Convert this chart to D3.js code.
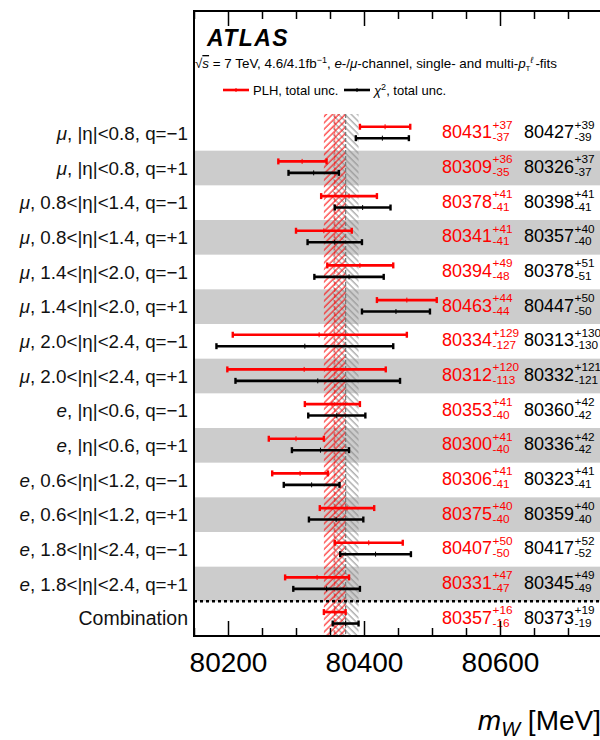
<!DOCTYPE html>
<html>
<head>
<meta charset="utf-8">
<script src="https://cdn.jsdelivr.net/npm/d3@7"></script>
<style>
body { margin: 0; background: #fff; }
svg { font-family: "Liberation Sans", Arial, Helvetica, sans-serif; }
</style>
</head>
<body>
<svg id="chart"></svg>
<script>
var width = 600,
    height = 740

// rows: lepton, the rest of the label
var leptons = ["μ","μ","μ","μ","μ","μ","μ","μ","e","e","e","e","e","e",""]
var bins = [", |η|<0.8, q=−1", ", |η|<0.8, q=+1", ", 0.8<|η|<1.4, q=−1", ", 0.8<|η|<1.4, q=+1",
            ", 1.4<|η|<2.0, q=−1", ", 1.4<|η|<2.0, q=+1", ", 2.0<|η|<2.4, q=−1", ", 2.0<|η|<2.4, q=+1",
            ", |η|<0.6, q=−1", ", |η|<0.6, q=+1", ", 0.6<|η|<1.2, q=−1", ", 0.6<|η|<1.2, q=+1",
            ", 1.8<|η|<2.4, q=−1", ", 1.8<|η|<2.4, q=+1", "Combination"]

// PLH fit, total unc.
var plhVal = [80431, 80309, 80378, 80341, 80394, 80463, 80334, 80312, 80353, 80300, 80306, 80375, 80407, 80331, 80357]
var plhUp  = [37, 36, 41, 41, 49, 44, 129, 120, 41, 41, 41, 40, 50, 47, 16]
var plhDn  = [37, 35, 41, 41, 48, 44, 127, 113, 40, 40, 41, 40, 50, 47, 16]

// chi2 fit, total unc.
var chiVal = [80427, 80326, 80398, 80357, 80378, 80447, 80313, 80332, 80360, 80336, 80323, 80359, 80417, 80345, 80373]
var chiUp  = [39, 37, 41, 40, 51, 50, 130, 121, 42, 42, 41, 40, 52, 49, 19]
var chiDn  = [39, 37, 41, 40, 51, 50, 130, 121, 42, 42, 41, 40, 52, 49, 19]

var majorTicks = [80200, 80400, 80600]
var minorTicks = [80150, 80250, 80300, 80350, 80450, 80500, 80550, 80650, 80700, 80750]

var rows = bins.map(function(b, i){
    return {i: i, lep: leptons[i], bin: b,
        plh: plhVal[i], plhUp: plhUp[i], plhDn: plhDn[i],
        chi: chiVal[i], chiUp: chiUp[i], chiDn: chiDn[i]}
})

var pLeft = 194, pTop = 11, pBottom = 636, pRight = 636

var x = d3.scaleLinear().domain([80150, 80800]).range([pLeft, pRight])
var y = d3.scaleBand().domain(d3.range(rows.length)).range([116, pBottom])
var h = y.bandwidth()

var red = "#ff0000"

var svg = d3.select("#chart")
    .attr("width", width)
    .attr("height", height)

var defs = svg.append("defs")
defs.append("pattern")
    .attr("id", "hatchRed")
    .attr("patternUnits", "userSpaceOnUse")
    .attr("width", 4.5).attr("height", 4.5)
    .attr("patternTransform", "rotate(45)")
    .append("line")
    .attr("x1", 1).attr("y1", 0).attr("x2", 1).attr("y2", 4.5)
    .attr("stroke", red).attr("stroke-width", 1)
defs.append("pattern")
    .attr("id", "hatchGrey")
    .attr("patternUnits", "userSpaceOnUse")
    .attr("width", 4.5).attr("height", 4.5)
    .attr("patternTransform", "rotate(-45)")
    .append("line")
    .attr("x1", 1).attr("y1", 0).attr("x2", 1).attr("y2", 4.5)
    .attr("stroke", "#8a8a8a").attr("stroke-width", 1)

// grey row bands
svg.append("g").selectAll("rect")
    .data(rows.filter(function(d){ return d.i % 2 == 1 }))
    .enter().append("rect")
    .attr("x", pLeft)
    .attr("y", function(d){ return y(d.i) })
    .attr("width", pRight - pLeft)
    .attr("height", h)
    .attr("fill", "#cccccc")

// combination bands
var comb = rows[rows.length - 1]
var bandTop = y(0) - 2
svg.append("rect")
    .attr("x", x(comb.chi - comb.chiDn)).attr("y", bandTop)
    .attr("width", x(comb.chi + comb.chiUp) - x(comb.chi - comb.chiDn))
    .attr("height", pBottom - bandTop)
    .attr("fill", "url(#hatchGrey)")
svg.append("rect")
    .attr("x", x(comb.plh - comb.plhDn)).attr("y", bandTop)
    .attr("width", x(comb.plh + comb.plhUp) - x(comb.plh - comb.plhDn))
    .attr("height", pBottom - bandTop)
    .attr("fill", "url(#hatchRed)")
svg.append("line")
    .attr("x1", x(comb.chi)).attr("x2", x(comb.chi))
    .attr("y1", bandTop).attr("y2", pBottom)
    .attr("stroke", "#777").attr("stroke-width", 1.2)
    .attr("stroke-dasharray", "4,2")
svg.append("line")
    .attr("x1", x(comb.plh)).attr("x2", x(comb.plh))
    .attr("y1", bandTop).attr("y2", pBottom)
    .attr("stroke", red).attr("stroke-width", 1)
    .attr("stroke-dasharray", "4,2")
    .attr("opacity", 0.6)

// separator before the combination
svg.append("line")
    .attr("x1", pLeft).attr("x2", pRight)
    .attr("y1", y(comb.i)).attr("y2", y(comb.i))
    .attr("stroke", "#000").attr("stroke-width", 2.5)
    .attr("stroke-dasharray", "3,3")

// error bars
function errorBars(key, col, off){
    var g = svg.append("g").selectAll("g")
        .data(rows)
        .enter().append("g")
        .attr("transform", function(d){ return "translate(0," + (y(d.i) + off) + ")" })
    g.append("line")
        .attr("x1", function(d){ return x(d[key] - d[key + "Dn"]) })
        .attr("x2", function(d){ return x(d[key] + d[key + "Up"]) })
        .attr("stroke", col).attr("stroke-width", 2.6)
    g.append("line")
        .attr("x1", function(d){ return x(d[key] - d[key + "Dn"]) })
        .attr("x2", function(d){ return x(d[key] - d[key + "Dn"]) })
        .attr("y1", -3).attr("y2", 3)
        .attr("stroke", col).attr("stroke-width", 2.4)
    g.append("line")
        .attr("x1", function(d){ return x(d[key] + d[key + "Up"]) })
        .attr("x2", function(d){ return x(d[key] + d[key + "Up"]) })
        .attr("y1", -3).attr("y2", 3)
        .attr("stroke", col).attr("stroke-width", 2.4)
    g.append("line")
        .attr("x1", function(d){ return x(d[key]) })
        .attr("x2", function(d){ return x(d[key]) })
        .attr("y1", -2.5).attr("y2", 2.5)
        .attr("stroke", col).attr("stroke-width", 1)
}
errorBars("plh", red, h * 0.31)
errorBars("chi", "#000", h * 0.64)

// value texts
function values(key, col, x0){
    var g = svg.append("g").selectAll("g")
        .data(rows)
        .enter().append("g")
        .attr("transform", function(d){ return "translate(" + x0 + "," + y(d.i) + ")" })
        .attr("fill", col)
    g.append("text")
        .attr("class", "main")
        .attr("y", 22.3)
        .attr("font-size", 18)
        .text(function(d){ return d[key] })
    g.each(function(d){
        var gg = d3.select(this)
        var w = gg.select("text.main").node().getComputedTextLength()
        gg.append("text")
            .attr("x", w + 0.5).attr("y", 12.5)
            .attr("font-size", 11.8)
            .text("+" + d[key + "Up"])
        gg.append("text")
            .attr("x", w + 0.5).attr("y", 25.3)
            .attr("font-size", 11.8)
            .text("-" + d[key + "Dn"])
    })
}
values("plh", red, 442)
values("chi", "#000", 524)

// row labels
var lab = svg.append("g").selectAll("text")
    .data(rows)
    .enter().append("text")
    .attr("x", 188)
    .attr("y", function(d){ return y(d.i) + h / 2 + 6.5 })
    .attr("text-anchor", "end")
    .attr("font-size", function(d){ return d.lep ? 18.8 : 19.5 })
    .attr("fill", "#111")
lab.append("tspan")
    .attr("font-style", "italic")
    .text(function(d){ return d.lep })
lab.append("tspan")
    .text(function(d){ return d.bin })

// frame and axes
svg.append("g")
    .attr("transform", "translate(0," + pBottom + ")")
    .call(d3.axisBottom(x).tickValues(minorTicks).tickSize(-8).tickFormat(""))
    .call(function(g){ g.select(".domain").remove() })
svg.append("g")
    .attr("transform", "translate(0," + pBottom + ")")
    .call(d3.axisBottom(x).tickValues(majorTicks).tickSize(-15).tickPadding(16).tickFormat(d3.format("d")))
    .call(function(g){ g.select(".domain").remove() })
    .selectAll("text")
    .attr("font-size", 28)
    .attr("font-family", "Liberation Sans, Arial, sans-serif")
    .attr("fill", "#000")
svg.append("g")
    .attr("transform", "translate(0," + pTop + ")")
    .call(d3.axisTop(x).tickValues(minorTicks).tickSize(-8).tickFormat(""))
    .call(function(g){ g.select(".domain").remove() })
svg.append("g")
    .attr("transform", "translate(0," + pTop + ")")
    .call(d3.axisTop(x).tickValues(majorTicks).tickSize(-15).tickFormat(""))
    .call(function(g){ g.select(".domain").remove() })
svg.selectAll(".tick line").attr("stroke", "#000").attr("stroke-width", 1.5)

svg.append("rect")
    .attr("x", pLeft).attr("y", pTop)
    .attr("width", pRight - pLeft).attr("height", pBottom - pTop)
    .attr("fill", "none")
    .attr("stroke", "#000").attr("stroke-width", 2)

// header
svg.append("text")
    .attr("x", 207).attr("y", 45.5)
    .attr("font-size", 23)
    .attr("font-weight", "bold")
    .attr("font-style", "italic")
    .attr("letter-spacing", 1.4)
    .text("ATLAS")

var sub = svg.append("text")
    .attr("x", 195).attr("y", 68)
    .attr("font-size", 13.4)
sub.append("tspan").text("√")
sub.append("tspan").attr("font-style", "italic").attr("text-decoration", "overline").text("s")
sub.append("tspan").text(" = 7 TeV, 4.6/4.1fb")
sub.append("tspan").attr("dy", -5).attr("font-size", 9).text("−1")
sub.append("tspan").attr("dy", 5).text(", ")
sub.append("tspan").attr("font-style", "italic").text("e")
sub.append("tspan").text("-/")
sub.append("tspan").attr("font-style", "italic").text("μ")
sub.append("tspan").text("-channel, single- and multi-")
sub.append("tspan").attr("font-style", "italic").text("p")
sub.append("tspan").attr("dy", 3).attr("font-size", 8).text("T")
sub.append("tspan").attr("dy", -8).attr("font-size", 9).attr("font-style", "italic").text("ℓ")
sub.append("tspan").attr("dx", 2).attr("dy", 5).text("-fits")

// legend
var legend = [
    {col: red, parts: [{t: "PLH, total unc."}], x: 223},
    {col: "#000", parts: [{t: "χ", i: true}, {t: "2", sup: true}, {t: ", total unc."}], x: 344}
]
var lg = svg.append("g").selectAll("g")
    .data(legend)
    .enter().append("g")
    .attr("transform", function(d){ return "translate(" + d.x + ",90)" })
lg.append("line")
    .attr("x1", 0).attr("x2", 26)
    .attr("stroke", function(d){ return d.col }).attr("stroke-width", 2.6)
lg.append("line")
    .attr("x1", 13).attr("x2", 13).attr("y1", -2).attr("y2", 2)
    .attr("stroke", function(d){ return d.col }).attr("stroke-width", 1)
var lt = lg.append("text")
    .attr("x", 30).attr("y", 4.5)
    .attr("font-size", 13)
lt.selectAll("tspan")
    .data(function(d){ return d.parts })
    .enter().append("tspan")
    .attr("font-style", function(p){ return p.i ? "italic" : null })
    .attr("font-size", function(p){ return p.sup ? 9 : null })
    .attr("dy", function(p, j){ return p.sup ? -5 : (j > 0 ? 5 : 0) })
    .text(function(p){ return p.t })

// axis title
var xt = svg.append("text")
    .attr("x", 601).attr("y", 730)
    .attr("text-anchor", "end")
    .attr("font-size", 28)
xt.append("tspan").attr("font-style", "italic").text("m")
xt.append("tspan").attr("font-style", "italic").attr("font-size", 20).attr("dy", 6).text("W")
xt.append("tspan").attr("dy", -6).text(" [MeV]")
</script>
</body>
</html>
